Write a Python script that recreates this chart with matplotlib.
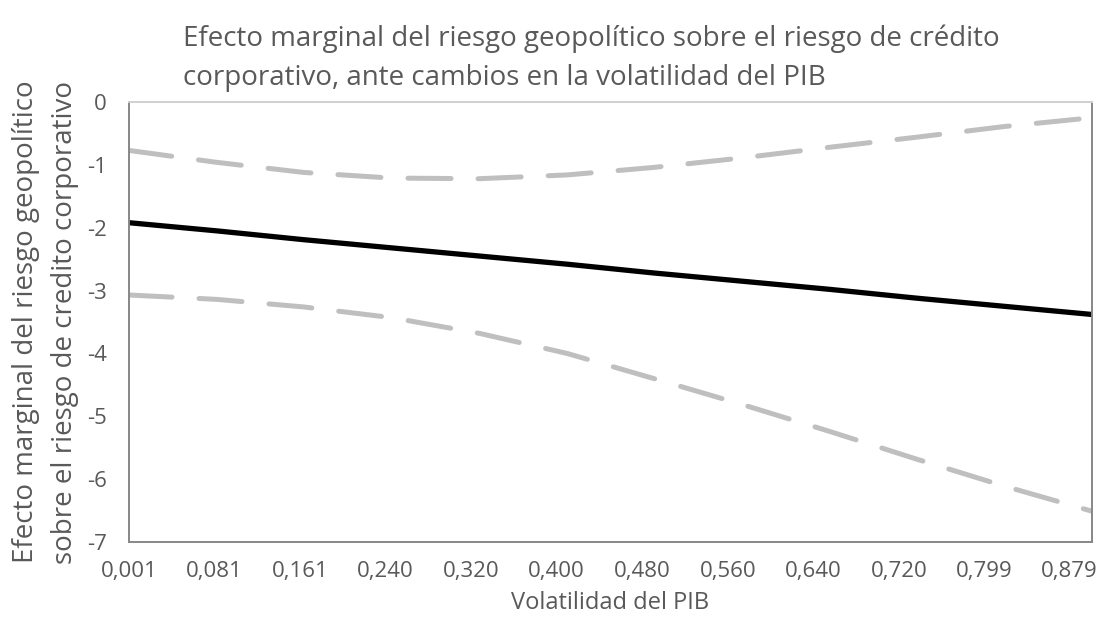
import matplotlib
matplotlib.use("Agg")
import matplotlib.pyplot as plt

plt.rcParams['font.family'] = ['Open Sans', 'DejaVu Sans']
plt.rcParams['lines.scale_dashes'] = False
plt.rcParams['axes.unicode_minus'] = False

# Volatilidad del PIB (eje x) y efecto marginal estimado con su banda
volatilidad = [0.001, 0.083, 0.164, 0.246, 0.328, 0.410,
               0.491, 0.573, 0.655, 0.736, 0.818, 0.900]
efecto = [-1.92, -2.05, -2.19, -2.32, -2.45, -2.58,
          -2.72, -2.85, -2.98, -3.12, -3.25, -3.38]
banda_sup = [-0.77, -0.96, -1.12, -1.21, -1.22, -1.16,
             -1.04, -0.89, -0.72, -0.56, -0.39, -0.25]
banda_inf = [-3.07, -3.14, -3.26, -3.43, -3.68, -4.00,
             -4.40, -4.81, -5.24, -5.68, -6.11, -6.51]
ticks_x = [0.001, 0.081, 0.161, 0.240, 0.320, 0.400,
           0.480, 0.560, 0.640, 0.720, 0.799, 0.879]
etiquetas_x = ['0,001', '0,081', '0,161', '0,240', '0,320', '0,400',
               '0,480', '0,560', '0,640', '0,720', '0,799', '0,879']

gris_texto = '#595959'

fig = plt.figure(figsize=(11.12, 6.24), dpi=100)
ax = fig.add_axes([0.116, 0.1314, 0.866, 0.7051])

ax.plot(volatilidad, banda_sup, color='#bfbfbf', lw=3.6,
        dashes=(31, 19.5), dash_capstyle='round')
ax.plot(volatilidad, banda_inf, color='#bfbfbf', lw=3.6,
        dashes=(31, 19.5), dash_capstyle='round')
ax.plot(volatilidad, efecto, color='black', lw=3.8, solid_capstyle='round')

ax.set_xlim(volatilidad[0], volatilidad[-1])
ax.set_ylim(-7, 0)
ax.set_xticks(ticks_x)
ax.set_xticklabels(etiquetas_x)
ax.set_yticks(range(-7, 1))
ax.tick_params(length=0, labelsize=16, labelcolor=gris_texto)
ax.tick_params(axis='x', pad=14)
ax.tick_params(axis='y', pad=16)

ax.spines['left'].set_color('#878787')
ax.spines['bottom'].set_color('#878787')
ax.spines['right'].set_color('#878787')
ax.spines['top'].set_color('#d0d0d0')
for s in ax.spines.values():
    s.set_linewidth(1.4)

ax.set_xlabel('Volatilidad del PIB', fontsize=17, color=gris_texto, labelpad=6)
ax.set_ylabel('Efecto marginal del riesgo geopolítico\nsobre el riesgo de credito corporativo',
              fontsize=20, color=gris_texto, labelpad=6, linespacing=1.5)

fig.text(0.165, 0.907, 'Efecto marginal del riesgo geopolítico sobre el riesgo de crédito\n'
         'corporativo, ante cambios en la volatilidad del PIB',
         fontsize=20, color=gris_texto, ha='left', va='center', linespacing=1.55)

fig.savefig('out.png', dpi=100)
